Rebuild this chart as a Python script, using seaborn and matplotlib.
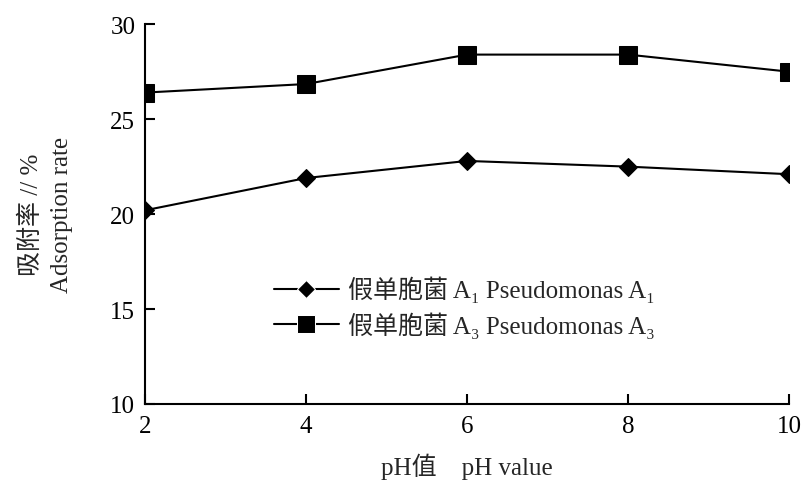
import matplotlib
matplotlib.use("Agg")
import matplotlib.pyplot as plt
import seaborn as sns
import pandas as pd

ph = [2, 4, 6, 8, 10]
a1_rate = [20.2, 21.9, 22.8, 22.5, 22.1]
a3_rate = [26.4, 26.85, 28.4, 28.4, 27.5]
series_names = ["假单胞菌 A₁ Pseudomonas A₁",
                "假单胞菌 A₃ Pseudomonas A₃"]
x_ticks = [2, 4, 6, 8, 10]
y_ticks = [10, 15, 20, 25, 30]

sns.set_theme(style="ticks")
plt.rcParams['font.family'] = ['Liberation Serif', 'Noto Sans CJK SC', 'DejaVu Sans']

df = pd.DataFrame({
    "ph": ph * 2,
    "rate": a1_rate + a3_rate,
    "series": [series_names[0]] * len(ph) + [series_names[1]] * len(ph),
})

fig, ax = plt.subplots(figsize=(8.06, 4.85), dpi=100)
fig.subplots_adjust(left=0.18, right=0.979, top=0.948, bottom=0.165)

marker_sizes = [9, 13]
sns.lineplot(data=df, x="ph", y="rate", hue="series", style="series",
             markers={series_names[0]: "D", series_names[1]: "s"},
             dashes=False, palette=["black", "black"], ax=ax,
             linewidth=1.5, legend=True)
for line, ms in zip(ax.lines, marker_sizes):
    line.set_markersize(ms)
    line.set_markeredgecolor("black")

ax.set_xlim(2, 10)
ax.set_ylim(10, 30)
ax.set_xticks(x_ticks)
ax.set_yticks(y_ticks)
ax.tick_params(direction="in", length=7, width=1.5, labelsize=18, colors="black")
ax.tick_params(axis="x", pad=8)
ax.tick_params(axis="y", pad=7)
for s in ["top", "right"]:
    ax.spines[s].set_visible(False)
for s in ["left", "bottom"]:
    ax.spines[s].set_linewidth(1.5)
    ax.spines[s].set_color("black")

ax.set_xlabel("pH值    pH value", fontsize=18, labelpad=11)
ax.set_ylabel("吸附率 // %\nAdsorption rate", fontsize=18, labelpad=27, linespacing=1.45)

leg = ax.legend(loc="center left", bbox_to_anchor=(0.20, 0.256), frameon=False,
                fontsize=18, handlelength=2.6, handletextpad=0.35, labelspacing=0.35,
                borderpad=0, borderaxespad=0)
for h, ms in zip(leg.legend_handles, marker_sizes):
    h.set_color("black")
    h.set_markersize(ms)

fig.savefig("out.png", dpi=100)
